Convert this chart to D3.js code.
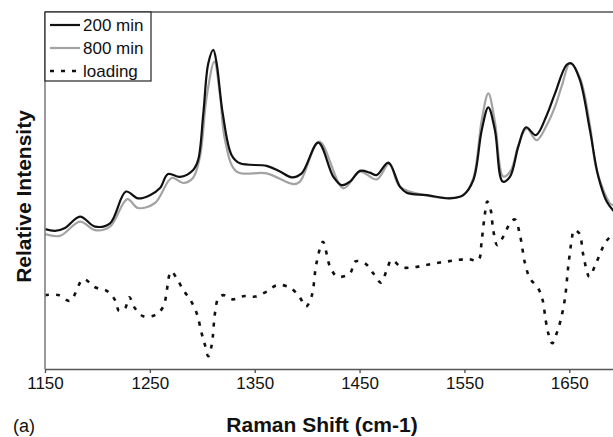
<!DOCTYPE html>
<html><head><meta charset="utf-8">
<script src="https://cdn.jsdelivr.net/npm/d3@7"></script>
<style>body{margin:0;background:#fff}svg{display:block}text{font-family:"Liberation Sans",Arial,sans-serif}</style>
</head><body>
<svg id="c" width="613" height="437"></svg>
<script>
// Raman shift (cm-1) and relative intensity (arbitrary units, 0-100)
const shift200 = [1150,1159.5,1169.1,1183.4,1197.7,1212,1227.2,1238.7,1250.1,1259.7,1267.3,1278.7,1291.1,1296,1301,1305.7,1310.5,1313.7,1319.5,1328,1336,1361.4,1374.1,1385.3,1394.8,1410.6,1424.9,1433,1440.9,1450.4,1459.9,1466.3,1477.4,1488.5,1494.9,1514,1536.2,1548.9,1558.5,1566.5,1572.8,1579.1,1586.5,1593.5,1601.4,1608.7,1618.2,1628.5,1636.4,1647.5,1652.3,1660.2,1669.7,1677.7,1685.7,1691.7,1700];
const int200   = [39.2,38.7,39.5,42.7,39.9,40.8,49.7,47.8,48.7,50.7,54.6,53.8,55.7,58.5,71.6,85.6,89.4,85.6,71.6,59.9,57.6,56.9,55.3,53.7,54.8,63.4,53.9,51.5,52.5,55.5,55.0,54.3,57.8,51.1,49.4,48.7,47.8,48.7,52.9,66.9,73.3,66.9,52.5,53.9,62.3,67.7,65.5,71.1,77.2,85.2,85.6,80.9,66.9,53.9,46.9,44.5,42.5];
const shift800 = [1150,1164.3,1183.4,1197.7,1212,1228.5,1238.7,1254.9,1270.8,1281.9,1291.1,1297.8,1304.2,1311.5,1316.9,1321.7,1332.8,1361.4,1386.8,1393.2,1411.6,1434.5,1450.4,1466.3,1478.4,1488.5,1514,1536.2,1548.9,1558.5,1566.5,1572.8,1579.1,1587.1,1594.4,1601.4,1609.4,1618.9,1628.5,1636.4,1643.1,1650.7,1660.2,1669.7,1676.1,1688.8,1691.7,1700];
const int800   = [37.8,37.3,41.3,38.9,39.9,47.6,45.1,46.5,53.5,52.1,53.5,59.5,76.3,86.1,76.7,64.1,55.3,54.8,51.8,52.5,63.7,50.6,55.3,53.1,57.6,51.0,48.6,47.9,48.7,53.5,69.7,77.2,69.2,53.9,55.7,62.7,67.4,64.1,68.3,73.5,79.5,85.6,81.5,68.3,55.7,46.4,45.9,44.0];
const shiftLoad = [1150,1162.7,1173.8,1186.5,1197.7,1208.8,1216.8,1220.6,1226.3,1230.4,1235.8,1243.7,1254.9,1262.8,1270.2,1275.6,1281.9,1288.3,1294.7,1299.4,1302.6,1305.7,1309,1312.1,1315.3,1320,1329,1339.1,1350.3,1361.4,1371.5,1383,1392.5,1398.9,1404.3,1408.9,1415.1,1421.8,1428.8,1440.9,1445.6,1455.2,1463.1,1470.4,1475.9,1480.6,1490.2,1501.2,1511.4,1521.9,1533.1,1542.6,1553.7,1563.2,1566.5,1569.6,1571.8,1575.1,1577.5,1581.3,1587.1,1593.5,1598.2,1603,1607.8,1612.5,1620.4,1624.6,1627.5,1630,1633.8,1638,1641.8,1645.9,1649,1652.3,1654.5,1659.5,1663.4,1669.1,1675.5,1685,1691.7,1700];
const intLoad   = [20.7,20.7,19.1,25.1,22.9,21.9,19.3,16.3,17.0,20.1,17.0,14.8,15.1,17.5,27.3,25.4,22.1,19.5,15.6,10.0,6.7,3.6,6.7,15.6,19.8,20.7,19.5,20.4,20.3,21.7,23.5,22.9,20.3,17.5,20.4,29.6,35.6,28.7,25.9,26.8,30.1,29.6,26.8,24.2,27.7,30.5,28.5,28.5,29.0,29.6,30.1,30.5,30.8,30.5,36.1,43.6,46.9,44.5,38.9,34.7,37.1,40.8,41.9,37.5,29.6,25.4,22.6,19.3,13.7,10.0,7.2,10.0,13.7,19.8,28.7,36.1,38.9,38.0,31.9,25.9,29.6,35.7,37.5,38.5];
const xTicks = [1150,1250,1350,1450,1550,1650];
const seriesNames = ["200 min","800 min","loading"];

const svg = d3.select("#c");
const L = 45, T = 12, B = 369, R = 621.7;
const x = d3.scaleLinear().domain([1150,1700]).range([L,R]);
const y = d3.scaleLinear().domain([0,100]).range([B,T]);

const series = [
  {name: seriesNames[0], xs: shift200, ys: int200, color:"#111", width:2.2, dash:null},
  {name: seriesNames[1], xs: shift800, ys: int800, color:"#a3a3a3", width:2.2, dash:null},
  {name: seriesNames[2], xs: shiftLoad, ys: intLoad, color:"#111", width:2.6, dash:"4,7"}
];

svg.append("defs").append("clipPath").attr("id","clip")
  .append("rect").attr("x",L).attr("y",T).attr("width",R-L).attr("height",B-T);

const line = d3.line().x(d=>x(d[0])).y(d=>y(d[1])).curve(d3.curveCatmullRom.alpha(0.5));
const g = svg.append("g").attr("clip-path","url(#clip)");
[series[1], series[0], series[2]].forEach(s => {
  g.append("path").datum(s.xs.map((v,i)=>[v,s.ys[i]]))
    .attr("d", line).attr("fill","none").attr("stroke", s.color)
    .attr("stroke-width", s.width).attr("stroke-dasharray", s.dash)
    .attr("stroke-linejoin","round");
});

// frame: top line and left axis
svg.append("line").attr("x1",L).attr("x2",613).attr("y1",T).attr("y2",T).attr("stroke","#808080").attr("stroke-width",2);
svg.append("line").attr("x1",L).attr("x2",L).attr("y1",T).attr("y2",B).attr("stroke","#808080").attr("stroke-width",1.6);

// x axis
const xAxis = svg.append("g").attr("transform",`translate(0,${B})`)
  .call(d3.axisBottom(x).tickValues(xTicks).tickSize(4).tickSizeOuter(0).tickFormat(d3.format("d")));
xAxis.select(".domain").attr("stroke","#555").attr("stroke-width",1.6);
xAxis.selectAll(".tick line").attr("stroke","#555").attr("stroke-width",1.4);
xAxis.selectAll(".tick text").attr("font-size",17).attr("fill","#111").attr("dy","0.3em").attr("y",15)
  .style("font-family","'Liberation Sans',Arial,sans-serif");

// titles
svg.append("text").attr("x",322).attr("y",432).attr("text-anchor","middle")
  .attr("font-size",21).attr("font-weight","bold").attr("fill","#111").text("Raman Shift (cm-1)");
svg.append("text").attr("transform","translate(31,196.5) rotate(-90)").attr("text-anchor","middle")
  .attr("font-size",21).attr("font-weight","bold").attr("fill","#111").text("Relative Intensity");
svg.append("text").attr("x",13).attr("y",432).attr("font-size",18).attr("fill","#111").text("(a)");

// legend
const lg = svg.append("g");
lg.append("rect").attr("x",L).attr("y",T).attr("width",106).attr("height",69)
  .attr("fill","#fff").attr("stroke","#222").attr("stroke-width",1.2);
series.forEach((s,i) => {
  const cy = 25 + i*23;
  lg.append("line").attr("x1",50).attr("x2",80).attr("y1",cy).attr("y2",cy)
    .attr("stroke",s.color).attr("stroke-width",s.width).attr("stroke-dasharray",s.dash);
  lg.append("text").attr("x",83).attr("y",cy).attr("dy","0.35em").attr("font-size",17).attr("fill","#111").text(s.name);
});
</script>
</body></html>
